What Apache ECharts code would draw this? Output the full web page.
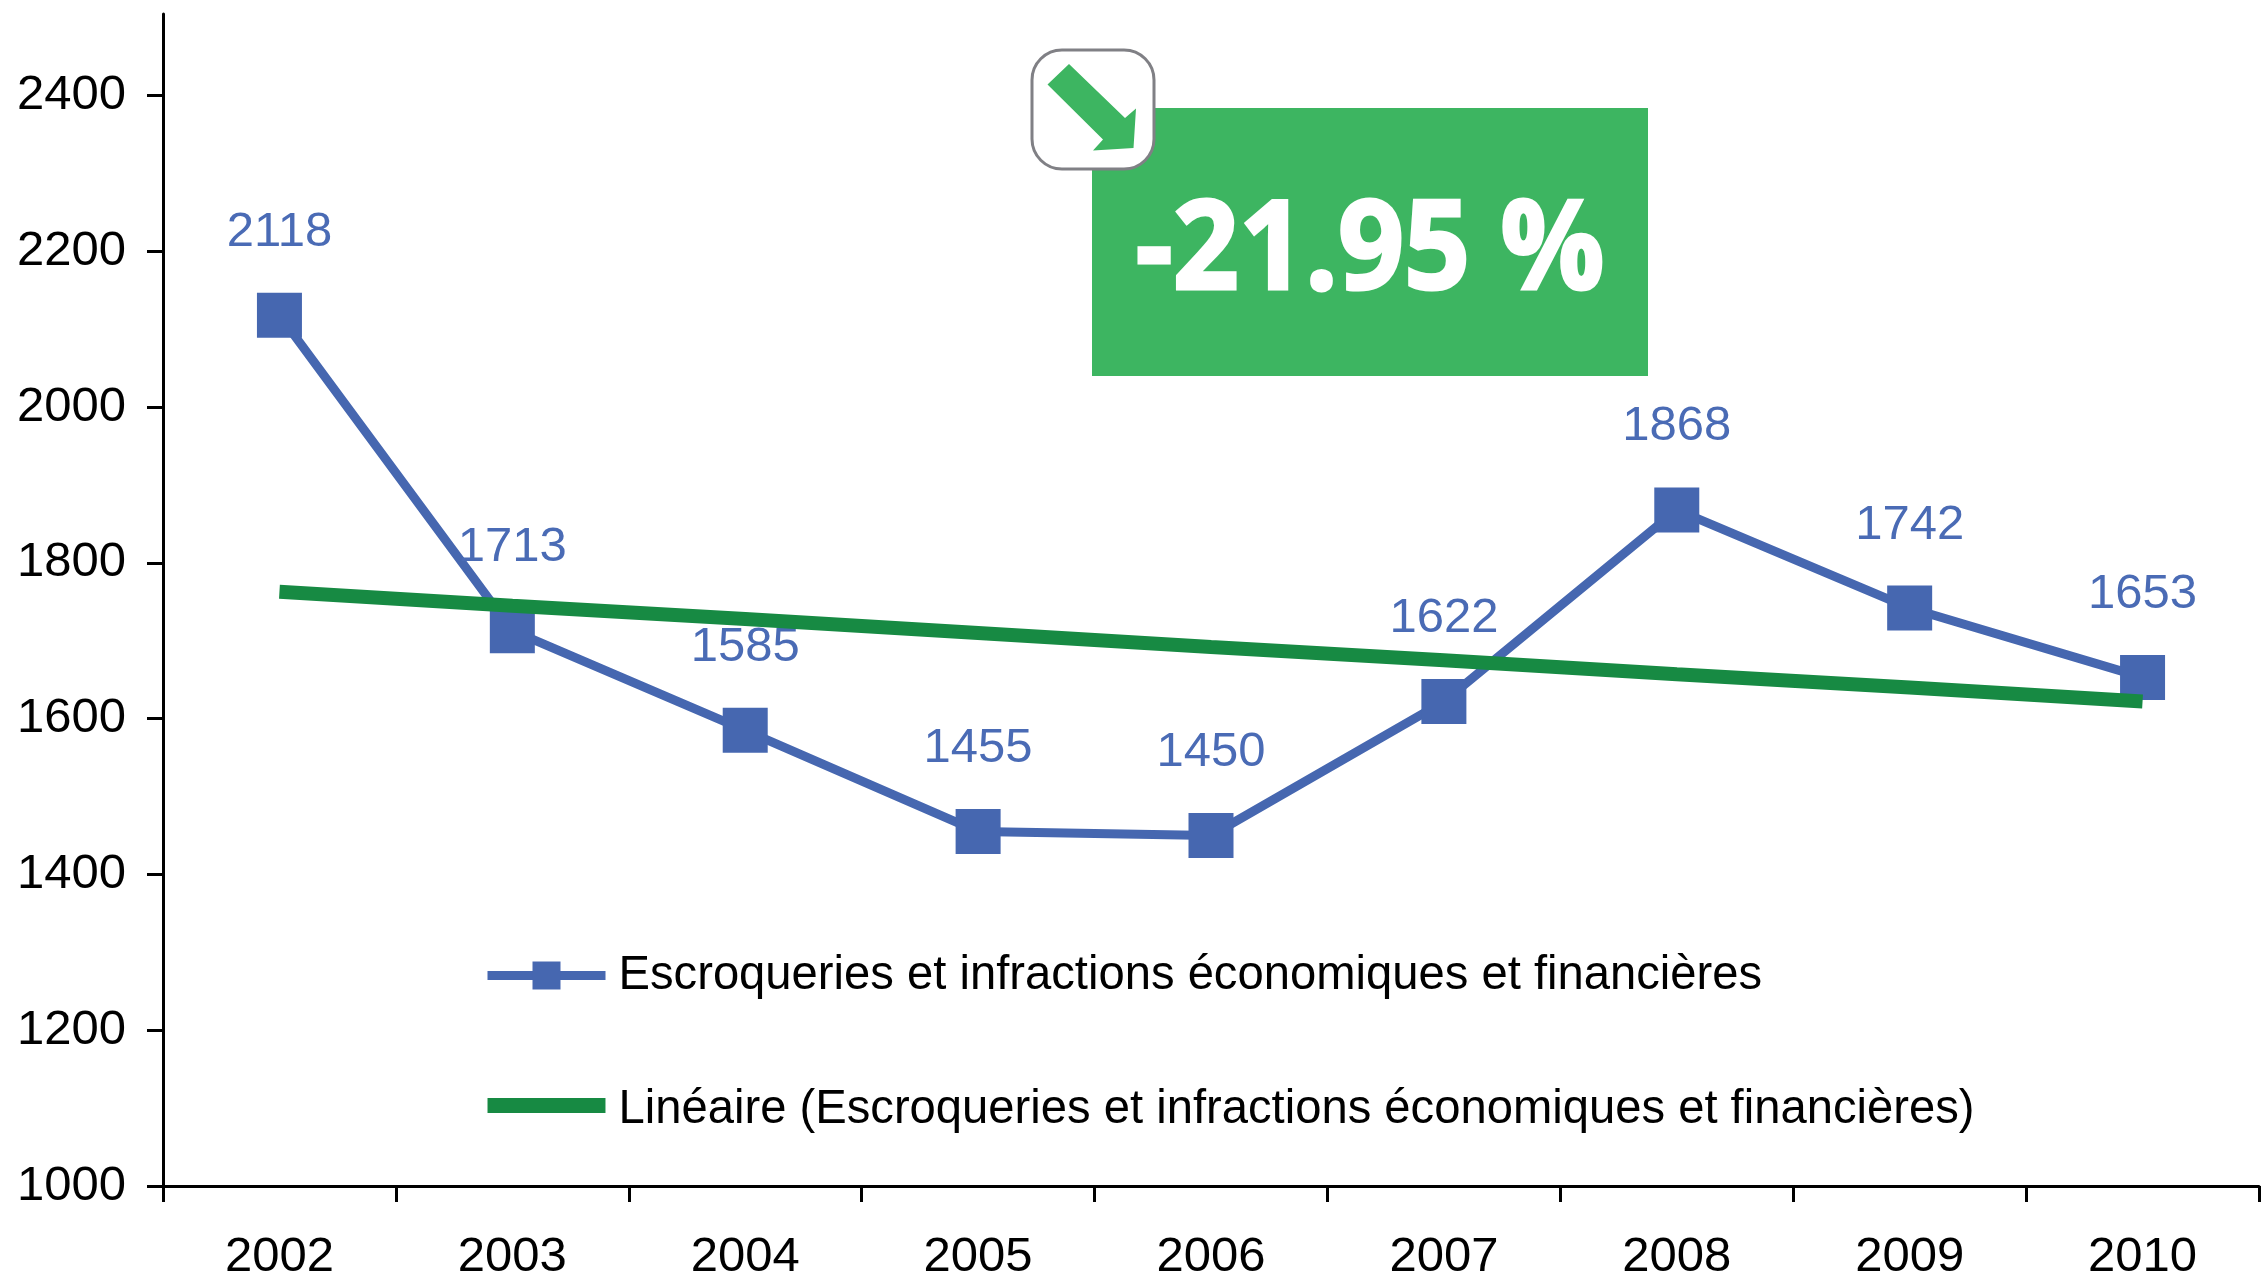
<!DOCTYPE html>
<html><head><meta charset="utf-8">
<style>html,body{margin:0;padding:0;background:#fff}#c{width:2265px;height:1282px}</style>
<script src="https://cdn.jsdelivr.net/npm/echarts@6/dist/echarts.min.js"></script></head>
<body><div id="c"></div>
<script>
const years = ['2002','2003','2004','2005','2006','2007','2008','2009','2010'];
const escroqueries = [2118,1713,1585,1455,1450,1622,1868,1742,1653];
const lineaire = [1763,1745,1728,1710,1692,1675,1657,1640,1622];
const yTicks = [1000,1200,1400,1600,1800,2000,2200,2400];
const seriesNames = ['Escroqueries et infractions économiques et financières','Linéaire (Escroqueries et infractions économiques et financières)'];
const badgeText = '-21.95 %';
const font = '"Liberation Sans", Arial, sans-serif';
const chart = echarts.init(document.getElementById('c'));
chart.setOption({
  animation:false, backgroundColor:'#fff',
  grid:{left:163,right:6,top:14,bottom:94.3},
  legend:{orient:'vertical',left:478,top:947,itemGap:87,itemWidth:118,itemHeight:35,
    textStyle:{fontFamily:font,fontSize:47.2,color:'#000',padding:[0,0,0,8]},
    data:[{name:seriesNames[0],lineStyle:{width:9,color:'#4667B0'}},
          {name:seriesNames[1],icon:'path://M0 0h.01v.01zM0 6h118v15H0zM118 35h.01v.01z',itemStyle:{color:'#178A43'}}]},
  xAxis:{type:'category',data:years,boundaryGap:true,
    axisLine:{lineStyle:{color:'#000',width:3}},
    axisTick:{show:true,length:16,lineStyle:{color:'#000',width:3}},
    axisLabel:{fontFamily:font,fontSize:49,color:'#000',margin:47,},splitLine:{show:false}},
  yAxis:{type:'value',min:1000,max:2504.7,interval:200,
    axisLine:{show:true,lineStyle:{color:'#000',width:3}},
    axisTick:{show:true,length:16,lineStyle:{color:'#000',width:3},customValues:yTicks},
    axisLabel:{fontFamily:font,fontSize:49,color:'#000',margin:37,customValues:yTicks,formatter:v=>String(v)},
    splitLine:{show:false}},
  series:[
    {name:seriesNames[0],type:'line',data:escroqueries,symbol:'rect',symbolSize:45,
     lineStyle:{color:'#4667B0',width:9},itemStyle:{color:'#4667B0'},
     label:{show:true,position:'top',distance:36,fontFamily:font,fontSize:49,color:'#4A6BB5'},z:2},
    {name:seriesNames[1],type:'line',data:lineaire,symbol:'none',
     lineStyle:{color:'#178A43',width:14},itemStyle:{color:'#178A43'},z:3}
  ],
  graphic:[
    {type:'rect',shape:{x:1092,y:108,width:556,height:268},style:{fill:'#3DB561'},z:10},
    {type:'rect',shape:{x:1032,y:50,width:122,height:119,r:30},style:{fill:'#fff',stroke:'#808085',lineWidth:3},z:11},
    {type:'polygon',shape:{points:[[1069,64],[1125,118],[1136,108.5],[1133.5,148],[1093,150.5],[1103,139.6],[1047.5,84.4]]},style:{fill:'#3DB561'},z:12},
    {type:'text',x:1370,y:254,scaleX:0.94,style:{text:badgeText,fill:'#fff',stroke:'#fff',lineWidth:3,fontFamily:'"Open Sans", sans-serif',fontWeight:700,fontSize:123,align:'center',verticalAlign:'middle'},z:12}
  ]
});
</script></body></html>
